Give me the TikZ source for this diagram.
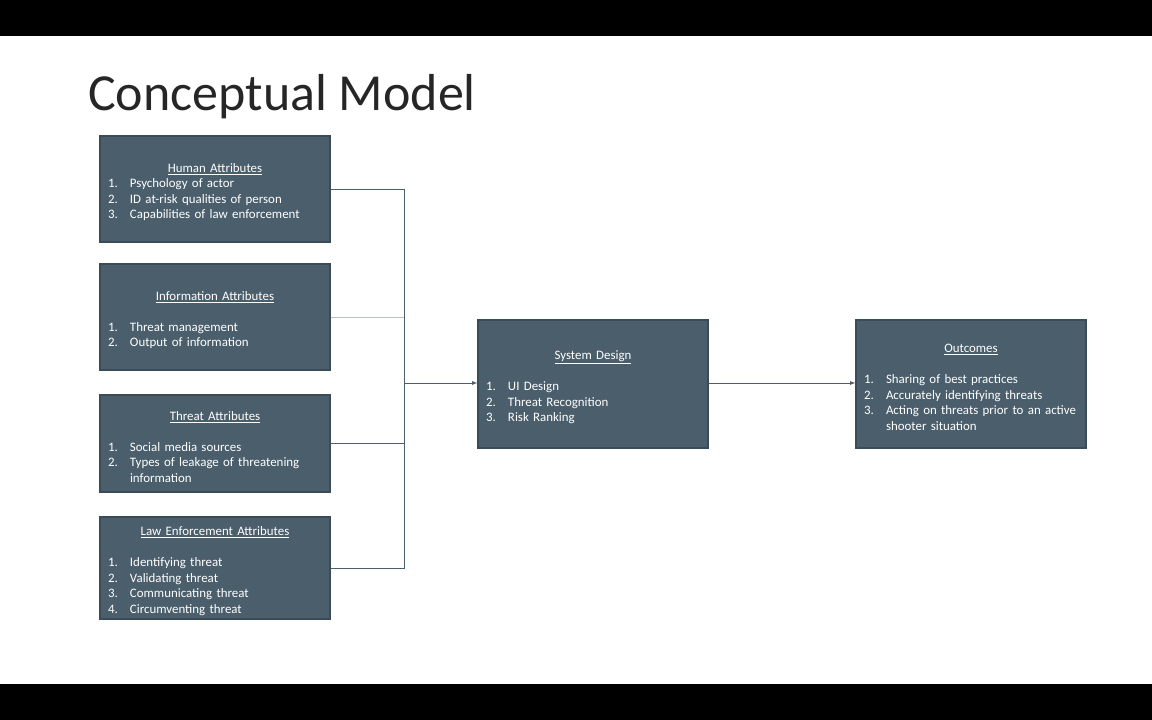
\documentclass[tikz,border=0pt]{standalone}
\usepackage{fontspec}
\setmainfont{Carlito}
\usepackage{tikz}
\usetikzlibrary{positioning}
\definecolor{slate}{HTML}{4A5E6C}
\definecolor{slateline}{HTML}{3B4C58}
\definecolor{wire}{HTML}{4F5F6A}
\newcommand{\itm}[2]{\par\noindent\makebox[22pt][l]{#1.}#2}
\newcommand{\itmc}[1]{\par\noindent\hspace*{22pt}#1}
\newcommand{\hdr}[1]{\par\centerline{\underline{#1}}}

\begin{document}
\begin{tikzpicture}[x=1pt, y=-1pt,
squarednode/.style={rectangle, draw=slateline, fill=slate, line width=1.2pt, minimum width=230pt, inner xsep=8pt, text width=214pt, align=left, text=white, font=\fontsize{12.9}{15.5}\selectfont},
]
\useasboundingbox (0,0) rectangle (1152,720);
%Bars
\fill[black] (0,0) rectangle (1152,36);
\fill[black] (0,684) rectangle (1152,720);
%Title
\node[anchor=base west, inner sep=0pt, text=black!85, font=\fontsize{52}{55}\selectfont] (title) at (88,110) {Conceptual Model};

%Nodes
\node[squarednode, minimum height=106pt] (human) at (215,189) {\hdr{Human Attributes}\itm{1}{Psychology of actor}\itm{2}{ID at-risk qualities of person}\itm{3}{Capabilities of law enforcement}};
\node[squarednode, minimum height=106pt] (info) at (215,317) {\hdr{Information Attributes}\vspace{15.5pt}\itm{1}{Threat management}\itm{2}{Output of information}};
\node[squarednode, minimum height=97pt] (threat) at (215,443.5) {\hdr{Threat Attributes}\vspace{15.5pt}\itm{1}{Social media sources}\itm{2}{Types of leakage of threatening}\itmc{information}};
\node[squarednode, minimum height=102pt] (law) at (215,568) {\hdr{Law Enforcement Attributes}\vspace{15.5pt}\itm{1}{Identifying threat}\itm{2}{Validating threat}\itm{3}{Communicating threat}\itm{4}{Circumventing threat}};
\node[squarednode, minimum height=128pt] (system) at (593,384) {\hdr{System Design}\vspace{15.5pt}\itm{1}{UI Design}\itm{2}{Threat Recognition}\itm{3}{Risk Ranking}};
\node[squarednode, minimum height=128pt] (outcomes) at (971,384) {\hdr{Outcomes}\vspace{15.5pt}\itm{1}{Sharing of best practices}\itm{2}{Accurately identifying threats}\itm{3}{Acting on threats prior to an active}\itmc{shooter situation}};
\coordinate (join) at (404,383);

%Lines
\draw[wire, line width=0.8pt] (human.east) -| (join);
\draw[wire, line width=0.8pt] (law.east) -| (join);
\draw[wire!40, line width=0.8pt] (info.east) -- (info.east -| join);
\draw[wire, line width=0.8pt] (threat.east) -- (threat.east -| join);
\draw[->, >=latex, wire, line width=0.8pt] (join) -- (system.west |- join);
\draw[->, >=latex, wire, line width=0.8pt] (system.east |- join) -- (outcomes.west |- join);

\end{tikzpicture}
\end{document}
